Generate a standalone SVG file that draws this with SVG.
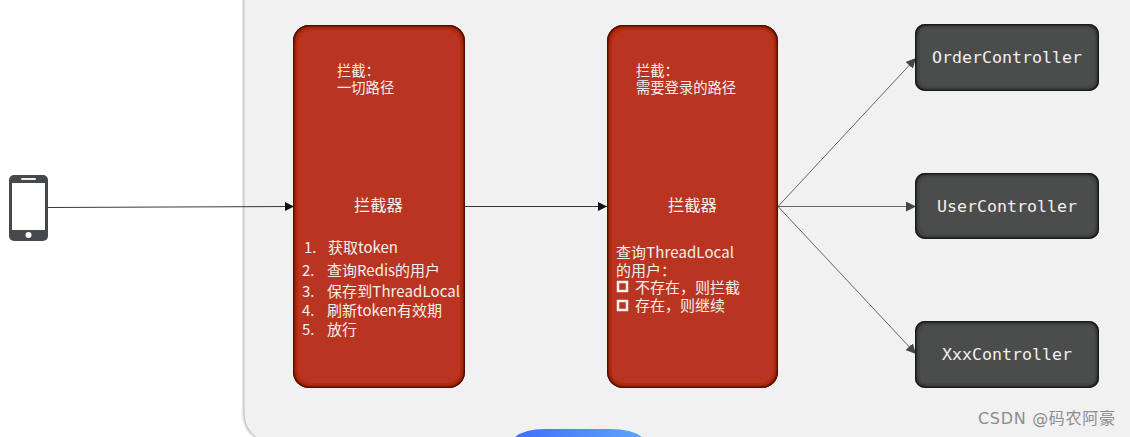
<svg xmlns="http://www.w3.org/2000/svg" width="1130" height="437" viewBox="0 0 1130 437">
<defs>
<filter id="inner" x="-5%" y="-5%" width="110%" height="110%">
<feGaussianBlur in="SourceAlpha" stdDeviation="2" result="b"/>
<feComposite in="SourceAlpha" in2="b" operator="out" result="e"/>
<feFlood flood-color="#000" flood-opacity="1"/>
<feComposite in2="e" operator="in" result="s"/>
<feMerge><feMergeNode in="SourceGraphic"/><feMergeNode in="s"/><feMergeNode in="s"/><feMergeNode in="s"/></feMerge>
</filter>
<filter id="soft" x="-5%" y="-5%" width="110%" height="110%"><feGaussianBlur stdDeviation="1"/></filter>
<linearGradient id="blue"><stop offset="0" stop-color="#3f6ffb"/><stop offset="1" stop-color="#5da5fb"/></linearGradient>
<marker id="ah" viewBox="0 0 10 10" refX="10" refY="5" markerWidth="9" markerHeight="9" markerUnits="userSpaceOnUse" orient="auto"><path d="M0 0L10 5L0 10Z" fill="#111"/></marker>
<marker id="ag" viewBox="0 0 10 10" refX="10" refY="5" markerWidth="10" markerHeight="10" markerUnits="userSpaceOnUse" orient="auto"><path d="M0 0L10 5L0 10Z" fill="#444748"/></marker>
<style>
text{font-family:"Noto Sans CJK SC","DejaVu Sans",sans-serif;fill:#f4efeb}
.red{fill:#b93524}
.dark{fill:#4b4e4e}
.t13{font-size:14.300px}
.t14{font-size:15px}
.title{font-size:16.300px}
.mono{font-family:"DejaVu Sans Mono","Liberation Mono",monospace;font-size:16.600px;text-anchor:middle}
.sq{fill:none;stroke:#f4efeb;stroke-width:2.500}
.c{fill:none;stroke:#222;stroke-width:.9}
.d{fill:none;stroke:#555;stroke-width:.9}
</style>
</defs>
<rect width="1130" height="437" fill="#fff"/>
<g id="panel">
<path d="M243 -5V412Q243 437 268 443H1135V-5Z" fill="#bbb" filter="url(#soft)"/>
<path d="M244.500 -5V412Q244.500 436 269 443H1135V-5Z" fill="#f1f1f1"/>
<path d="M515 437Q525 429 545 429H610Q632 429 642 437Z" fill="url(#blue)"/>
</g>
<g id="connectors">
<path class="c" d="M48 207.500L294 206.500" marker-end="url(#ah)"/>
<path class="c" d="M465 206.500H607" marker-end="url(#ah)"/>
<path class="d" d="M778 206.500L916 58" marker-end="url(#ag)"/>
<path class="d" d="M778 206.500H916" marker-end="url(#ag)"/>
<path class="d" d="M778 206.500L916 354" marker-end="url(#ag)"/>
</g>
<g id="phone">
<rect x="9" y="175" width="39" height="66" rx="5" fill="#46494b"/>
<rect x="12" y="183" width="33" height="47" fill="#fff"/>
<rect x="21" y="178" width="15" height="2" rx="1" fill="#eee"/>
<circle cx="28.500" cy="235" r="3" fill="#fff"/>
</g>
<g id="interceptor1">
<rect class="red" x="293" y="25" width="172" height="363" rx="16" filter="url(#inner)"/>
<text class="t13"><tspan x="337" y="76">拦截：</tspan><tspan x="337" y="93">一切路径</tspan></text>
<text class="title" x="354" y="211">拦截器</text>
<text class="t14"><tspan x="304" y="253">1.</tspan><tspan x="328" y="253">获取token</tspan><tspan x="302" y="276">2.</tspan><tspan x="327" y="276">查询Redis的用户</tspan><tspan x="302" y="297">3.</tspan><tspan x="327" y="297" letter-spacing=".1">保存到ThreadLocal</tspan><tspan x="302" y="316">4.</tspan><tspan x="327" y="316">刷新token有效期</tspan><tspan x="302" y="335">5.</tspan><tspan x="327" y="335">放行</tspan></text>
</g>
<g id="interceptor2">
<rect class="red" x="607" y="25" width="171" height="363" rx="16" filter="url(#inner)"/>
<text class="t13"><tspan x="636" y="76">拦截：</tspan><tspan x="636" y="93">需要登录的路径</tspan></text>
<text class="title" x="668" y="211">拦截器</text>
<text class="t14"><tspan x="616" y="258" letter-spacing=".1">查询ThreadLocal</tspan><tspan x="616" y="276">的用户：</tspan><tspan x="635" y="293">不存在，则拦截</tspan><tspan x="635" y="311">存在，则继续</tspan></text>
<rect class="sq" x="618" y="282" width="9" height="9"/>
<rect class="sq" x="618" y="301" width="9" height="9"/>
</g>
<g id="order"><rect class="dark" x="915" y="24" width="184" height="67" rx="10" filter="url(#inner)"/><text class="mono" x="1007" y="62.500" textLength="150">OrderController</text></g>
<g id="user"><rect class="dark" x="915" y="173" width="184" height="66" rx="10" filter="url(#inner)"/><text class="mono" x="1007" y="211.500" textLength="140">UserController</text></g>
<g id="xxx"><rect class="dark" x="915" y="321" width="184" height="67" rx="10" filter="url(#inner)"/><text class="mono" x="1007" y="360" textLength="130">XxxController</text></g>
<text id="watermark" x="978" y="424" font-size="16" style="fill:#8d8d8d;font-family:'DejaVu Sans','Noto Sans CJK SC',sans-serif" textLength="137">CSDN @码农阿豪</text>
</svg>
